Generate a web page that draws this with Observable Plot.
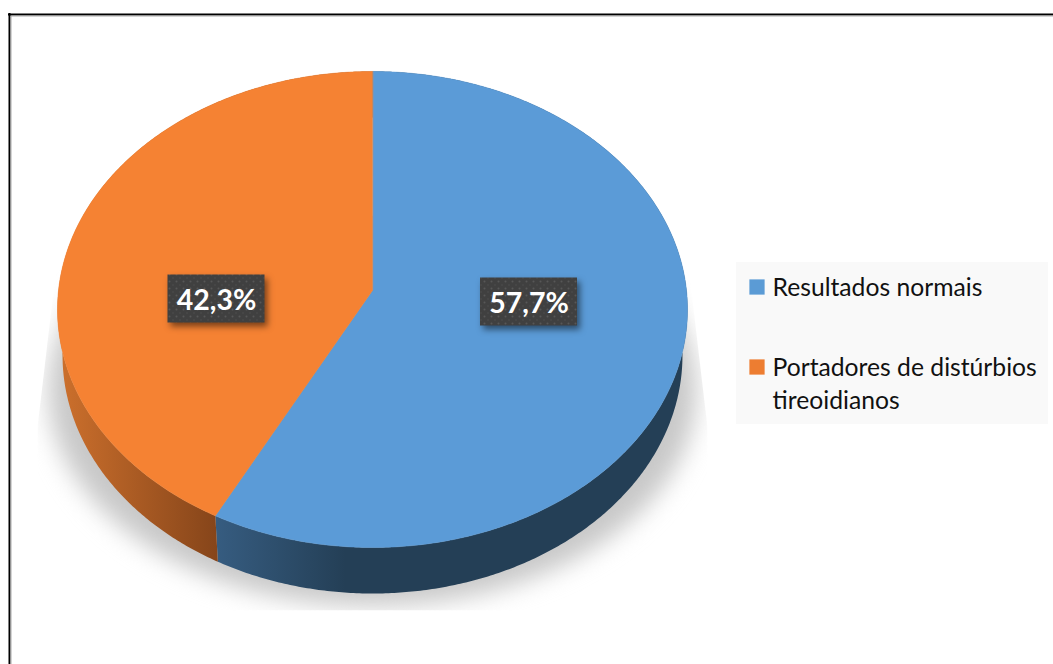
<!DOCTYPE html>
<html>
<head>
<meta charset="utf-8">
<script src="https://cdn.jsdelivr.net/npm/d3@7"></script>
<script src="https://cdn.jsdelivr.net/npm/@observablehq/plot@0.6"></script>
<style>
html,body{margin:0;padding:0;background:#fff;overflow:hidden}
svg{display:block}
.shadow{filter:blur(12px);clip-path:polygon(62px 215px,682px 215px,707px 427px,707px 610px,37px 610px,37px 427px) view-box}
.tag{filter:drop-shadow(3px 4px 3px rgba(0,0,0,.5))}
</style>
</head>
<body>
<script>
// Data
const categories = ["Resultados normais", "Portadores de distúrbios tireoidianos"];
const values = [57.7, 42.3];
const valueLabels = ["57,7%", "42,3%"];
const legendLabels = ["Resultados normais", "Portadores de distúrbios\ntireoidianos"];

// Colours
const topColors = ["#5b9bd7", "#f58233"];
const sideFills = ["url(#sideBlue)", "url(#sideOrange)"];
const legendColors = ["#5b9bd5", "#ed7d31"];

// Layout (pixel space of the x/y scales)
const W = 1053, H = 664;
const apexX = 372, apexY = 290, radX = 314, radY = 236.5, persp = 0.0798;
const depth = 46, lowerScale = 0.984;
const labelCentres = [[528.5, 301.5], [216, 298.5]];
const labelW = 97, labelH = 48;
const legendBox = {x1: 736, x2: 1048, y1: 262, y2: 424};
const legendKeyY = [286.5, 366.5];

// Perspective projection of a unit circle on to the tilted disc
function rim(aDeg, f = 1, dy = 0, sx = 1) {
  const a = aDeg * Math.PI / 180, u = f * Math.sin(a), v = f * Math.cos(a), d = 1 + persp * v;
  return {x: apexX + sx * radX * u / d, y: apexY + dy - radY * v / d};
}
function arc(a0, a1, dy = 0, sx = 1) {
  const n = Math.max(2, Math.ceil(Math.abs(a1 - a0) * 2));
  return d3.range(n + 1).map(i => rim(a0 + (a1 - a0) * i / n, 1, dy, sx));
}
const total = d3.sum(values);
let acc = 0;
const slices = values.map((v, i) => {
  const a0 = acc / total * 360;
  acc += v;
  return {i, a0, a1: acc / total * 360};
});
const topPoly = s => [rim(0, 0), ...arc(s.a0, s.a1)];
const sidePoly = s => [...arc(s.a0, s.a1, depth, lowerScale), ...arc(s.a1, s.a0)];
const shadowPoly = d3.range(0, 361, 1).map(t => ({
  x: 372 + 324 * Math.sin(t * Math.PI / 180),
  y: 390 - 222 * Math.cos(t * Math.PI / 180) * (Math.cos(t * Math.PI / 180) > 0 ? 1 : 0.97)
}));

const line = (pts, fill, extra = {}) => Plot.line(pts, {x: "x", y: "y", curve: "linear-closed", fill, stroke: "none", ...extra});

function defs() {
  const svgNS = "http://www.w3.org/2000/svg";
  const el = (n, attrs, kids = []) => {
    const e = document.createElementNS(svgNS, n);
    Object.entries(attrs).forEach(([k, v]) => e.setAttribute(k, v));
    kids.forEach(k => e.appendChild(k));
    return e;
  };
  const grad = (id, x1, x2, c1, c2) => el("linearGradient", {id, gradientUnits: "userSpaceOnUse", x1, x2, y1: 0, y2: 0}, [
    el("stop", {offset: 0, "stop-color": c1}), el("stop", {offset: 1, "stop-color": c2})
  ]);
  const dots = el("pattern", {id: "dots", patternUnits: "userSpaceOnUse", width: 7, height: 7}, [
    el("rect", {width: 7, height: 7, fill: "#404040"}),
    el("circle", {cx: 1.5, cy: 1.5, r: 1, fill: "#575757"}),
    el("circle", {cx: 5, cy: 5, r: 0.8, fill: "#4d4d4d"})
  ]);
  return el("defs", {}, [
    grad("sideBlue", 216, 345, "#365c80", "#243f56"),
    grad("sideOrange", 62, 216, "#cb6f2c", "#86451a"),
    dots
  ]);
}

const labelRows = valueLabels.map((t, i) => ({
  t, x: labelCentres[i][0], y: labelCentres[i][1]
}));
const keyRows = legendLabels.map((t, i) => ({t, y: legendKeyY[i], c: legendColors[i]}));

const fig = Plot.plot({
  width: W, height: H,
  margin: 0,
  x: {domain: [0, W], range: [0, W], axis: null},
  y: {domain: [0, H], range: [0, H], axis: null},
  style: {background: "#fff"},
  marks: [
    defs,
    Plot.ruleX([9], {y1: 13, y2: H, stroke: "#000", strokeWidth: 2}),
    Plot.ruleX([10.5], {y1: 15, y2: H, stroke: "#aaa", strokeWidth: 1}),
    Plot.ruleY([14], {x1: 8, x2: W, stroke: "#000", strokeWidth: 2}),
    Plot.ruleY([15.5], {x1: 11, x2: W, stroke: "#aaa", strokeWidth: 1}),
    line(shadowPoly, "#c8c8c8", {className: "shadow"}),
    ...slices.map(s => line(sidePoly(s), sideFills[s.i])),
    ...slices.map(s => line(topPoly(s), topColors[s.i], {stroke: topColors[s.i], strokeWidth: 0.5})),
    Plot.rect(labelRows, {
      x1: d => d.x - labelW / 2, x2: d => d.x + labelW / 2,
      y1: d => d.y - labelH / 2, y2: d => d.y + labelH / 2,
      fill: "url(#dots)", className: "tag"
    }),
    Plot.text(labelRows, {
      x: "x", y: "y", text: "t", fill: "#fff", fontFamily: "Lato", fontWeight: 700, fontSize: 28.5, dy: 1.5
    }),
    Plot.rect([legendBox], {x1: "x1", x2: "x2", y1: "y1", y2: "y2", fill: "#f9f9f9"}),
    Plot.dot(keyRows, {x: () => 756.5, y: "y", symbol: "square", r: 8.6, fill: "c", stroke: "none"}),
    Plot.text(keyRows, {
      x: () => 772, y: "y", text: "t", fill: "#111", textAnchor: "start", lineAnchor: "top",
      dy: -15, lineHeight: 1.34, fontFamily: "Lato", fontSize: 24.7
    })
  ]
});
document.body.appendChild(fig);
</script>
</body>
</html>
